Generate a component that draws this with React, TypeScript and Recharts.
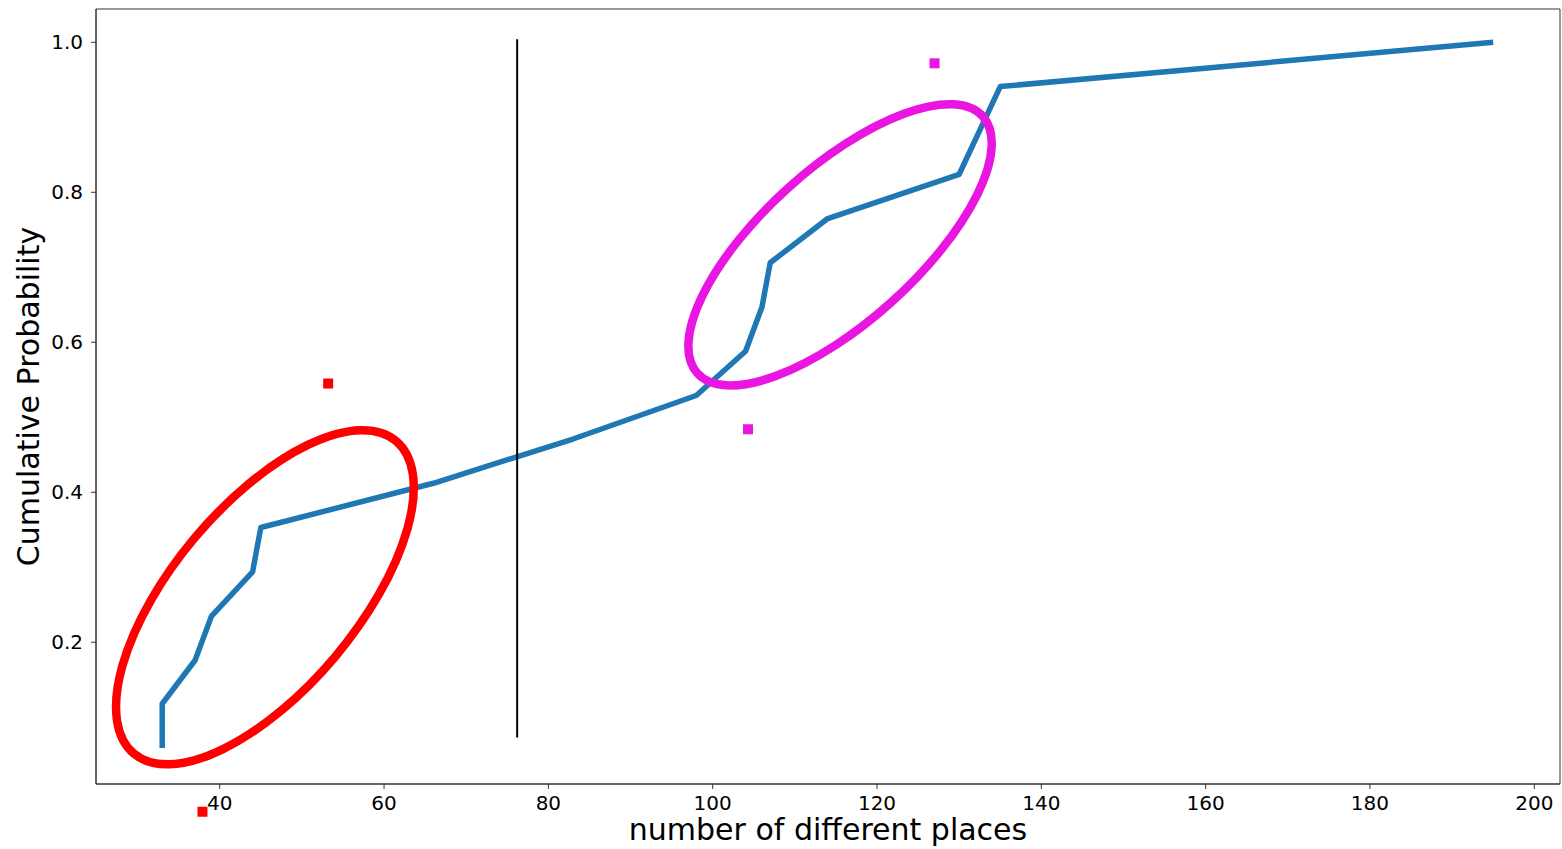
import React from "react";
import {
  LineChart,
  Line,
  XAxis,
  YAxis,
  ReferenceLine,
  ReferenceDot,
  ReferenceArea,
  Label,
} from "recharts";

// CDF of number of different places
const places = [33, 33, 37, 39, 44, 45, 66, 83, 98, 104, 106, 107, 114, 130, 135, 195];
const cumulativeProb = [
  0.059, 0.118, 0.176, 0.235, 0.294, 0.353, 0.412, 0.471, 0.529, 0.588, 0.647,
  0.706, 0.765, 0.824, 0.941, 1.0,
];

const xTicks = [40, 60, 80, 100, 120, 140, 160, 180, 200];
const yTicks = [0.2, 0.4, 0.6, 0.8, 1.0];

// vertical cut line
const cutX = 76.2;
const cutYFrom = 0.073;
const cutYTo = 1.004;

// small square markers
const redMarkX = [53.2, 37.9];
const redMarkY = [0.545, -0.026];
const magentaMarkX = [104.3, 127.0];
const magentaMarkY = [0.484, 0.972];

// highlighted clusters (ellipse centres)
const clusterX = [45.5, 115.5];
const clusterY = [0.26, 0.73];

const BLUE = "#1f77b4";
const RED = "#ff0000";
const MAGENTA = "#e816e0";

const X_DOMAIN: [number, number] = [24.94, 203.13];
const Y_DOMAIN: [number, number] = [0.011, 1.0444];

// ellipse look (pixels) for each cluster
const ELLIPSE_STYLE = [
  { rx: 204, ry: 92, angle: -50, color: RED },
  { rx: 192, ry: 77, angle: -42, color: MAGENTA },
];

const data = places.map((x, i) => ({ x, y: cumulativeProb[i] }));

const squareShape = (color: string) => (props: any) => (
  <rect x={props.cx - 5} y={props.cy - 5} width={10} height={10} fill={color} />
);

const ellipseShape = (idx: number) => (props: any) => {
  const s = ELLIPSE_STYLE[idx];
  return (
    <ellipse
      cx={props.cx}
      cy={props.cy}
      rx={s.rx}
      ry={s.ry}
      fill="none"
      stroke={s.color}
      strokeWidth={8.5}
      transform={`rotate(${s.angle} ${props.cx} ${props.cy})`}
    />
  );
};

export default function App() {
  return (
    <div style={{ position: "absolute", left: 0, top: 0, background: "#fff" }}>
      <LineChart
        width={1562}
        height={849}
        data={data}
        margin={{ top: 9, right: 2, bottom: 0, left: 0 }}
        style={{ fontFamily: "DejaVu Sans" }}
      >
        <XAxis
          dataKey="x"
          type="number"
          domain={X_DOMAIN}
          allowDataOverflow
          ticks={xTicks}
          height={65}
          tickSize={5}
          tickMargin={7}
          stroke="#333"
          tick={{ fontSize: 20, fill: "#000" }}
        >
          <Label
            content={({ viewBox }: any) => (
              <text
                x={viewBox.x + viewBox.width / 2}
                y={viewBox.y + 56}
                textAnchor="middle"
                fontSize={30}
                fill="#000"
                fontFamily="DejaVu Sans"
              >
                number of different places
              </text>
            )}
          />
        </XAxis>
        <YAxis
          type="number"
          domain={Y_DOMAIN}
          allowDataOverflow
          ticks={yTicks}
          width={96}
          tickSize={5}
          tickMargin={8}
          stroke="#333"
          tick={{ fontSize: 20, fill: "#000" }}
          tickFormatter={(v: number) => v.toFixed(1)}
        >
          <Label
            content={({ viewBox }: any) => {
              const cx = 39;
              const cy = viewBox.y + viewBox.height / 2;
              return (
                <text
                  x={cx}
                  y={cy}
                  textAnchor="middle"
                  fontSize={30}
                  fill="#000"
                  fontFamily="DejaVu Sans"
                  transform={`rotate(-90 ${cx} ${cy})`}
                >
                  Cumulative Probability
                </text>
              );
            }}
          />
        </YAxis>

        {/* axes frame (top and right spines) */}
        <ReferenceArea
          x1={X_DOMAIN[0]}
          x2={X_DOMAIN[1]}
          y1={Y_DOMAIN[0]}
          y2={Y_DOMAIN[1]}
          fill="none"
          fillOpacity={0}
          stroke="#333"
          strokeWidth={1}
          strokeOpacity={1}
          ifOverflow="visible"
        />

        <Line
          type="linear"
          dataKey="y"
          stroke={BLUE}
          strokeWidth={5.5}
          strokeLinejoin="round"
          strokeLinecap="butt"
          dot={false}
          activeDot={false}
          isAnimationActive={false}
        />

        <ReferenceLine
          segment={[
            { x: cutX, y: cutYFrom },
            { x: cutX, y: cutYTo },
          ]}
          stroke="#000"
          strokeWidth={2}
          ifOverflow="visible"
        />

        {clusterX.map((x, i) => (
          <ReferenceDot
            key={`cl-${i}`}
            x={x}
            y={clusterY[i]}
            ifOverflow="visible"
            shape={ellipseShape(i)}
          />
        ))}

        {redMarkX.map((x, i) => (
          <ReferenceDot
            key={`rm-${i}`}
            x={x}
            y={redMarkY[i]}
            ifOverflow="visible"
            shape={squareShape(RED)}
          />
        ))}
        {magentaMarkX.map((x, i) => (
          <ReferenceDot
            key={`mm-${i}`}
            x={x}
            y={magentaMarkY[i]}
            ifOverflow="visible"
            shape={squareShape(MAGENTA)}
          />
        ))}
      </LineChart>
    </div>
  );
}
